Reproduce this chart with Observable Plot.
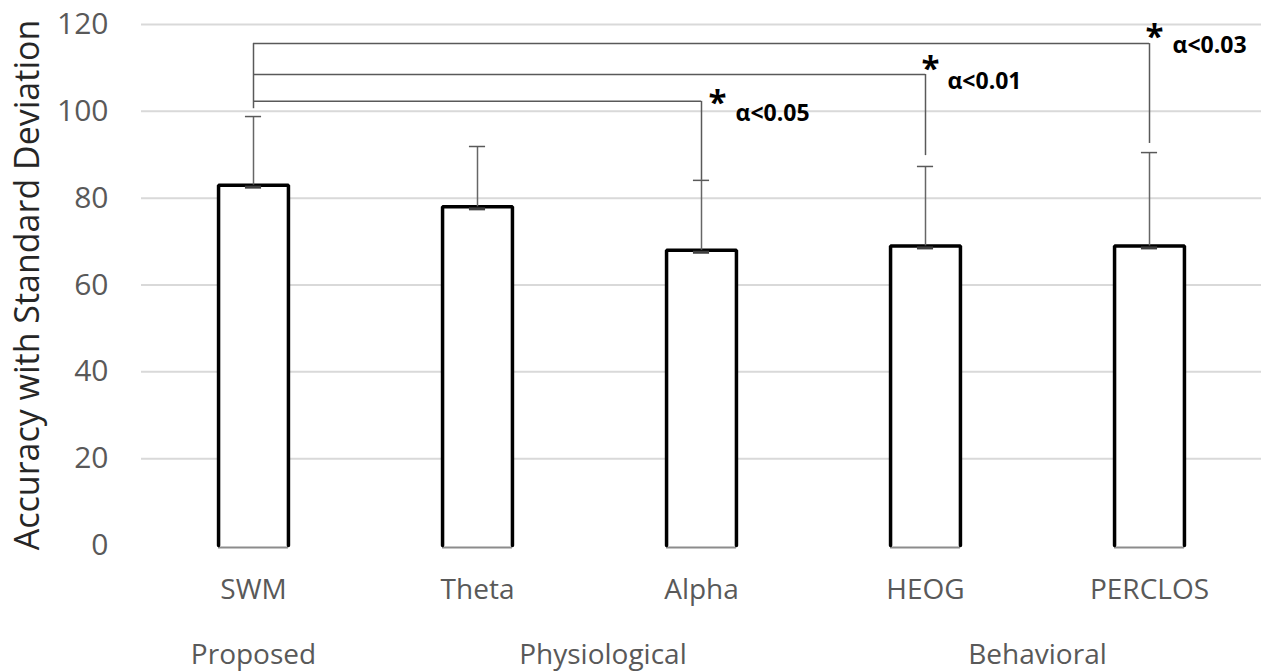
<!DOCTYPE html>
<html><head><meta charset="utf-8">
<script src="https://cdn.jsdelivr.net/npm/d3@7"></script>
<script src="https://cdn.jsdelivr.net/npm/@observablehq/plot@0.6"></script>
<style>body{margin:0;background:#fff}</style>
</head><body><div id="chart"></div>
<script>
const categories = ["SWM", "Theta", "Alpha", "HEOG", "PERCLOS"];
const means = [83, 78, 68, 69, 69];
const sds = [15.8, 13.9, 16.1, 18.3, 21.5];
const groups = ["Proposed", "Physiological", "Behavioral"];
const groupPos = [0, 1.56, 3.5];
const yTicks = [0, 20, 40, 60, 80, 100, 120];
const sigTargets = [2, 3, 4];
const sigLevels = [102.3, 108.5, 115.6];
const sigEnds = [84.1, 89.8, 92.6];
const sigLabels = ["α<0.05", "α<0.01", "α<0.03"];
const starX = [2.071, 3.022, 4.022];
const starY = [103.6, 111.4, 118.8];
const labelX = [2.152, 3.098, 4.103];
const labelY = [99.5, 106.9, 115.2];
const swmStemBottom = 100.6;

const hw = 0.156, cw = 0.036;
const bars = categories.map((c, i) => ({c, i, m: means[i], sd: sds[i]}));
const outline = bars.flatMap(b => [
  {c: b.c, x: b.i - hw, y: 0}, {c: b.c, x: b.i - hw, y: b.m},
  {c: b.c, x: b.i + hw, y: b.m}, {c: b.c, x: b.i + hw, y: 0}
]);
const sig = sigTargets.map((t, k) => ({t, lvl: sigLevels[k], end: sigEnds[k], lab: sigLabels[k],
  sx: starX[k], sy: starY[k], lx: labelX[k], ly: labelY[k]}));
const font = "'Open Sans', sans-serif";

const chart = Plot.plot({
  width: 1269, height: 672,
  marginLeft: 141, marginRight: 8, marginTop: 24, marginBottom: 127,
  style: {fontFamily: font, background: "#fff"},
  x: {domain: [-0.5, 4.5], axis: null},
  y: {domain: [0, 120], axis: null},
  marks: [
    Plot.ruleY(yTicks.filter(d => d > 0), {stroke: "#d9d9d9", strokeWidth: 2}),
    Plot.text(yTicks, {frameAnchor: "left", y: d => d, text: d => String(d), textAnchor: "end", dx: -33,
      fontSize: 30, fill: "#595959"}),
    Plot.text(["Accuracy with Standard Deviation"], {frameAnchor: "left", text: d => d, rotate: -90,
      textAnchor: "middle", dx: -113, fontSize: 34, fill: "#262626"}),
    Plot.rect(bars, {x1: d => d.i - hw, x2: d => d.i + hw, y1: 0, y2: "m", fill: "white"}),
    Plot.ruleY(bars, {y: 0, x1: d => d.i - hw, x2: d => d.i + hw, stroke: "#8c8c8c", strokeWidth: 2, dy: 2}),
    Plot.line(outline, {x: "x", y: "y", z: "c", stroke: "black", strokeWidth: 3.5, strokeLinejoin: "miter"}),
    Plot.ruleX(bars, {x: "i", y1: "m", y2: d => d.m + d.sd, stroke: "#666666", strokeWidth: 1.5}),
    Plot.ruleY(bars, {y: d => d.m + d.sd, x1: d => d.i - cw, x2: d => d.i + cw, stroke: "#595959", strokeWidth: 1.5}),
    Plot.ruleY(bars, {y: "m", x1: d => d.i - cw, x2: d => d.i + cw, stroke: "#404040", strokeWidth: 3, dy: 2}),
    Plot.ruleX([0], {x: d => d, y1: swmStemBottom, y2: d3.max(sigLevels), stroke: "#595959", strokeWidth: 1.5}),
    Plot.ruleY(sig, {y: "lvl", x1: 0, x2: "t", stroke: "#595959", strokeWidth: 1.5}),
    Plot.ruleX(sig, {x: "t", y1: "end", y2: "lvl", stroke: "#595959", strokeWidth: 1.5}),
    Plot.text(sig, {x: "sx", y: "sy", text: () => "*", fontSize: 33, fontWeight: "bold", fill: "black", dy: 8}),
    Plot.text(sig, {x: "lx", y: "ly", text: "lab", textAnchor: "start", fontSize: 23, fontWeight: "bold", fill: "black"}),
    Plot.text(categories, {x: (d, i) => i, y: 0, text: d => d, dy: 45, fontSize: 28, fill: "#595959"}),
    Plot.text(groups, {x: (d, i) => groupPos[i], y: 0, text: d => d, dy: 110, fontSize: 28, fill: "#595959"})
  ]
});
document.getElementById("chart").appendChild(chart);
</script>
</body></html>
